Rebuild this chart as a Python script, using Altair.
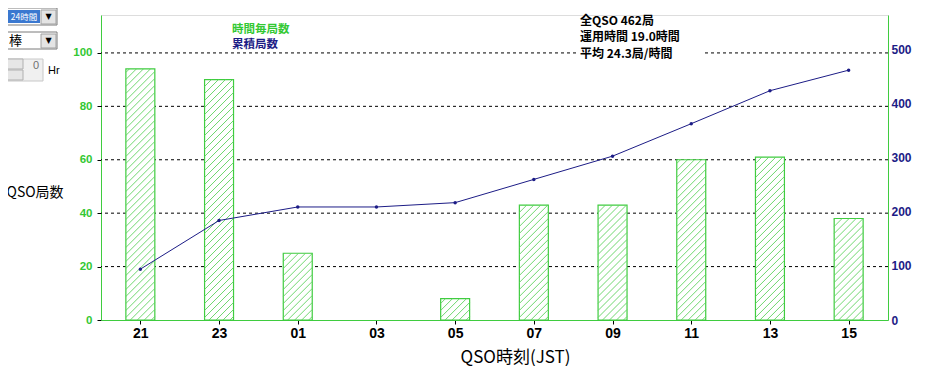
import json
import altair as alt
import pandas as pd

# ---- data ----
hours = ["21", "23", "01", "03", "05", "07", "09", "11", "13", "15"]
counts = [94, 90, 25, 0, 8, 43, 43, 60, 61, 38]
cumulative = [94, 184, 209, 209, 217, 260, 303, 363, 424, 462]
left_ticks = [0, 20, 40, 60, 80, 100]
right_ticks = [0, 100, 200, 300, 400, 500]
legend_labels = ["時間毎局数", "累積局数"]
summary_lines = ["全QSO 462局", "運用時間 19.0時間", "平均 24.3局/時間"]
ui_labels = ["24時間", "棒", "0", "Hr"]

# ---- style ----
GREEN = "#3fcc3f"
GREEN_LBL = "#33c833"
HATCH = "#5fd35f"
NAVY = "#1c1c86"
JP = "Noto Sans CJK JP"
NUM = "Liberation Sans"

W, H = 787, 305
Y_LEFT_MAX = 114.2
Y_RIGHT_MAX = 564
HALF = 0.184

df = pd.DataFrame({"idx": list(range(len(hours))), "hour": hours,
                   "count": counts, "cum": cumulative})

# hatch segments derived from the bar values (45° lines in pixel space)
px_x = W / len(hours)
px_y = H / Y_LEFT_MAX
bw = 2 * HALF * px_x
spacing = 7.0
rows = []
for i, v in enumerate(counts):
    h = v * px_y
    if h <= 0:
        continue
    c = -bw + spacing / 2
    while c < h:
        xs = max(0.0, -c)
        xe = min(bw, h - c)
        if xe > xs:
            rows.append({
                "hx0": i - HALF + xs / px_x, "hx1": i - HALF + xe / px_x,
                "hy0": (xs + c) / px_y, "hy1": (xe + c) / px_y,
            })
        c += spacing
hatch_df = pd.DataFrame(rows)
grid_df = pd.DataFrame({"v": left_ticks[1:]})
one = pd.DataFrame({"a": [0]})

x_scale = alt.Scale(domain=[-0.5, len(hours) - 0.5], nice=False, zero=False)
yl_scale = alt.Scale(domain=[0, Y_LEFT_MAX], nice=False)
yr_scale = alt.Scale(domain=[0, Y_RIGHT_MAX], nice=False)

x_axis = alt.Axis(
    values=list(range(len(hours))), labelExpr=json.dumps(hours) + "[datum.value]",
    title="QSO時刻(JST)", titleFont=JP, titleFontSize=17, titleFontWeight="normal",
    titleColor="black", titleX=414, titleY=37, titleBaseline="middle",
    labelFont=NUM, labelFontSize=14, labelFontWeight="bold", labelColor="black",
    labelPadding=2, tickColor="black", tickSize=4, domainColor=GREEN, grid=False,
)
yl_axis = alt.Axis(
    values=left_ticks, title="QSO局数", titleAngle=0, titleFont=JP, titleFontSize=14,
    titleFontWeight="normal", titleColor="black", titleAlign="left",
    titleBaseline="middle", titleX=-95, titleY=177,
    labelFont=NUM, labelFontSize=11.5, labelFontWeight="bold", labelColor=GREEN_LBL,
    labelPadding=5, tickColor="black", tickSize=4, domainColor=GREEN, grid=False,
)
yr_axis = alt.Axis(
    values=right_ticks, title="", orient="right",
    labelFont=NUM, labelFontSize=12, labelFontWeight="bold", labelColor=NAVY,
    labelPadding=3, ticks=False, domainColor=GREEN, grid=False,
)

grid = alt.Chart(grid_df).mark_rule(color="black", strokeWidth=1, strokeDash=[3, 3]).encode(
    y=alt.Y("v:Q", scale=yl_scale, axis=yl_axis),
)

bars = alt.Chart(df).transform_filter("datum.count > 0").transform_calculate(
    x0=f"datum.idx - {HALF}", x1=f"datum.idx + {HALF}"
).mark_rect(fill="white", stroke=GREEN, strokeWidth=1.2).encode(
    x=alt.X("x0:Q", scale=x_scale, axis=x_axis),
    x2="x1:Q",
    y=alt.Y("count:Q", scale=yl_scale, axis=yl_axis),
    y2=alt.datum(0),
)

hatch = alt.Chart(hatch_df).mark_rule(color=HATCH, strokeWidth=0.9).encode(
    x=alt.X("hx0:Q", scale=x_scale, axis=x_axis),
    x2="hx1:Q",
    y=alt.Y("hy0:Q", scale=yl_scale, axis=yl_axis),
    y2="hy1:Q",
)

left = alt.layer(grid, bars, hatch)

line = alt.Chart(df).mark_line(
    color=NAVY, strokeWidth=1,
    point=alt.OverlayMarkDef(filled=True, size=12, color=NAVY),
).encode(
    x=alt.X("idx:Q", scale=x_scale, axis=x_axis),
    y=alt.Y("cum:Q", scale=yr_scale, axis=yr_axis),
)


def box(x, x2, y, y2, **kw):
    return alt.Chart(one).mark_rect(**kw).encode(
        x=alt.value(x), x2=alt.value(x2), y=alt.value(y), y2=alt.value(y2))


def label(txt, x, y, **kw):
    return alt.Chart(one).mark_text(text=txt, baseline="middle", **kw).encode(
        x=alt.value(x), y=alt.value(y))


texts = []
# legend
texts.append(label(legend_labels[0], 131, 14.5, align="left", font=JP, fontSize=11.5,
                   fontWeight="bold", color=GREEN_LBL))
texts.append(label(legend_labels[1], 131, 29.5, align="left", font=JP, fontSize=11.5,
                   fontWeight="bold", color=NAVY))
# summary (white backing over the grid line)
texts.append(box(476, 603, 31, 46, fill="white"))
for k, s in enumerate(summary_lines):
    texts.append(label(s, 479, 5.5 + 16.5 * k, align="left", font=JP, fontSize=12,
                       fontWeight="bold", color="black"))

# UI controls at top-left
ui = [
    box(-95, -44, -7, 10, fill="white", stroke="#7a7a7a", strokeWidth=1),
    box(-93, -61, -5, 8, fill="#3a78d0"),
    label(ui_labels[0], -77, 2, align="center", font=JP, fontSize=8.5, color="white"),
    box(-60, -45, -5, 9, fill="#e4e4e4", stroke="#a0a0a0", strokeWidth=1),
    label("▼", -52.5, 2, align="center", font="DejaVu Sans", fontSize=8, color="black"),
    box(-95, -44, 17, 34, fill="white", stroke="#7a7a7a", strokeWidth=1),
    label(ui_labels[1], -92, 26, align="left", font=JP, fontSize=13, color="black"),
    box(-60, -45, 19, 33, fill="#e4e4e4", stroke="#a0a0a0", strokeWidth=1),
    label("▼", -52.5, 26, align="center", font="DejaVu Sans", fontSize=8, color="black"),
    box(-95, -58, 44, 66, fill="#f0f0f0", stroke="#c8c8c8", strokeWidth=1),
    box(-95, -78, 44, 54, fill="#e6e6e6", stroke="#b0b0b0", strokeWidth=1),
    box(-95, -78, 55, 65, fill="#e6e6e6", stroke="#b0b0b0", strokeWidth=1),
    label(ui_labels[2], -62, 51, align="right", font="Liberation Sans", fontSize=11,
          color="#707070"),
    label(ui_labels[3], -53, 56, align="left", font="Liberation Sans", fontSize=11,
          color="black"),
]

chart = alt.layer(left, line, *texts, *ui).resolve_scale(y="independent").properties(
    width=W, height=H,
    padding={"left": 93, "top": 7, "right": 32, "bottom": 46},
    autosize=alt.AutoSizeParams(type="none"),
).configure_view(strokeWidth=0).configure(background="white")

chart.save("out.html", embed_options={"renderer": "svg", "actions": False})
